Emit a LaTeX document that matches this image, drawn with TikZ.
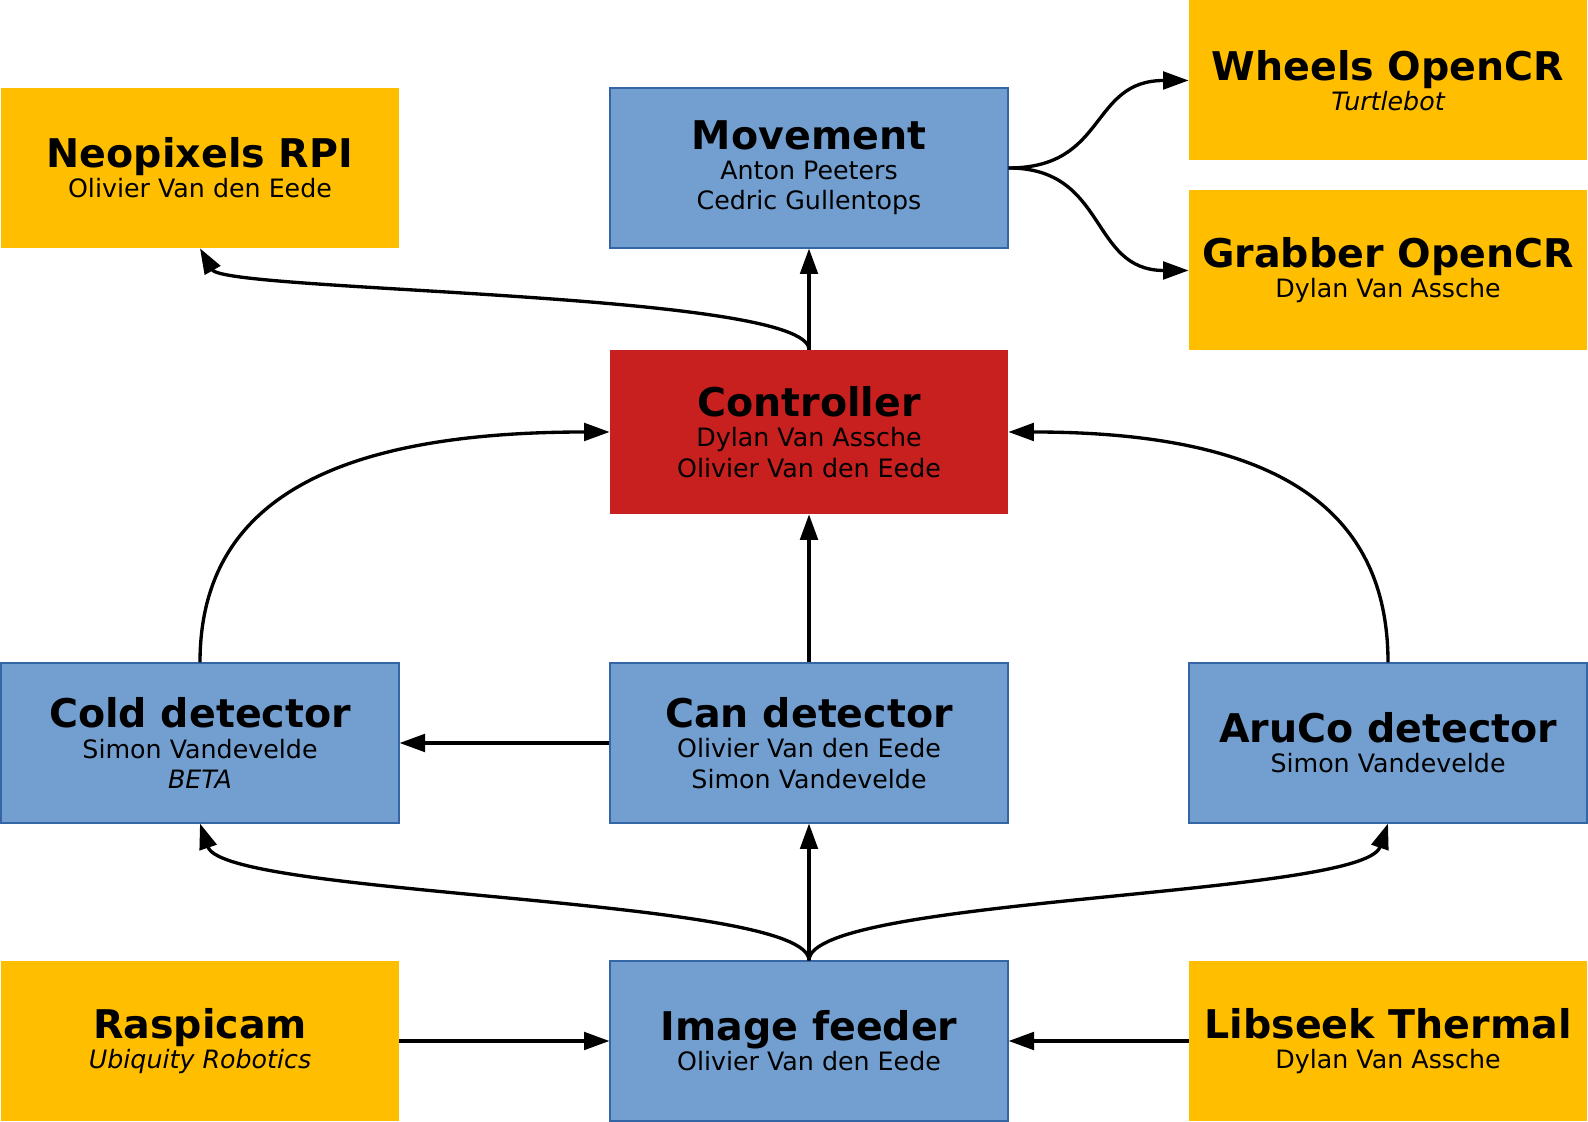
\documentclass[tikz,border=0pt]{standalone}
\usepackage{fontspec}
\setmainfont{DejaVu Sans}
\usetikzlibrary{arrows.meta}
\definecolor{blauwvak}{HTML}{729FCF}
\definecolor{blauwrand}{HTML}{3465A4}
\definecolor{geelvak}{HTML}{FFBF00}
\definecolor{roodvak}{HTML}{C8201E}
\newcommand{\titel}[1]{{\fontsize{22.5}{17.2}\selectfont\bfseries #1}}
\begin{document}
\begin{tikzpicture}[
        blok/.style={minimum width=7.96cm, minimum height=3.2cm, inner sep=0pt, align=center, font=\fontsize{14.4}{17.2}\selectfont},
        blauw/.style={blok, fill=blauwvak, draw=blauwrand, line width=0.6pt},
        geel/.style={blok, fill=geelvak},
        rood/.style={blok, fill=roodvak, minimum height=3.28cm},
        pijl/.style={line width=1.9pt, -{Triangle[length=14.5pt,width=10pt]}}
    ]
        \useasboundingbox (0,0) rectangle (31.76,22.44);
        % top
        \node[geel] (neopixels) at (4,19.08) {\titel{Neopixels RPI}\\Olivier Van den Eede};
        \node[blauw] (movement) at (16.18,19.08) {\titel{Movement}\\Anton Peeters\\Cedric Gullentops};
        \node[geel] (wheels) at (27.76,20.83) {\titel{Wheels OpenCR}\\\itshape Turtlebot};
        \node[geel] (grabber) at (27.76,17.03) {\titel{Grabber OpenCR}\\Dylan Van Assche};
        \node[rood] (controller) at (16.18,13.8) {\titel{Controller}\\Dylan Van Assche\\Olivier Van den Eede};
        % detectors
        \node[blauw] (cold) at (4,7.58) {\titel{Cold detector}\\Simon Vandevelde\\\itshape BETA};
        \node[blauw] (can) at (16.18,7.58) {\titel{Can detector}\\Olivier Van den Eede\\Simon Vandevelde};
        \node[blauw] (aruco) at (27.76,7.58) {\titel{AruCo detector}\\Simon Vandevelde};
        % camera
        \node[geel] (raspicam) at (4,1.62) {\titel{Raspicam}\\\itshape Ubiquity Robotics};
        \node[blauw] (feeder) at (16.18,1.62) {\titel{Image feeder}\\Olivier Van den Eede};
        \node[geel] (libseek) at (27.76,1.62) {\titel{Libseek Thermal}\\Dylan Van Assche};

        \draw[pijl] (controller.north) -- (movement.south);
        \draw[pijl] (controller.north) .. controls (16.18,16.6) and (4.5,16.6) .. (neopixels.south);
        \draw[pijl] (movement.east) .. controls (22.16,19.08) and (21.78,20.83) .. (wheels.west);
        \draw[pijl] (movement.east) .. controls (22.16,19.08) and (21.78,17.03) .. (grabber.west);
        \draw[pijl] (cold.north) .. controls (4,12.38) and (6.6,13.8) .. (controller.west);
        \draw[pijl] (aruco.north) .. controls (27.76,12.38) and (25.36,13.8) .. (controller.east);
        \draw[pijl] (can.north) -- (controller.south);
        \draw[pijl] (can.west) -- (cold.east);
        \draw[pijl] (feeder.north) -- (can.south);
        \draw[pijl] (feeder.north) .. controls (16.18,4.5) and (4.5,4.5) .. (cold.south);
        \draw[pijl] (feeder.north) .. controls (16.18,4.5) and (27.26,4.5) .. (aruco.south);
        \draw[pijl] (raspicam.east) -- (feeder.west);
        \draw[pijl] (libseek.west) -- (feeder.east);
    \end{tikzpicture}
\end{document}
